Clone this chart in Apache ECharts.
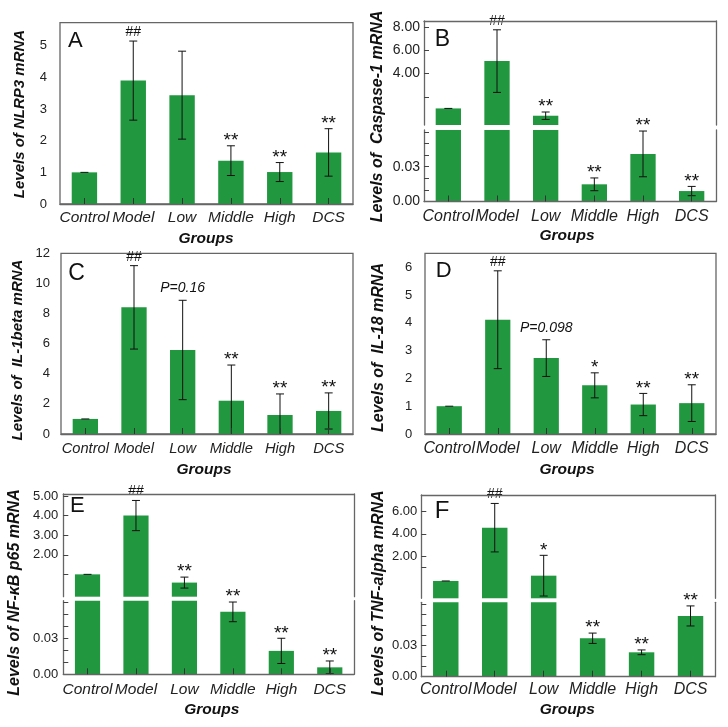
<!DOCTYPE html>
<html><head><meta charset="utf-8">
<script src="https://cdn.jsdelivr.net/npm/echarts@6/dist/echarts.min.js"></script>
<style>html,body{margin:0;padding:0;background:#fff}#c{width:728px;height:727px}</style>
</head><body><div id="c"></div>
<script>
// ---------------- DATA ----------------
const categories = ['Control', 'Model', 'Low', 'Middle', 'High', 'DCS'];

// A: NLRP3
const aMean = [1.0, 3.9, 3.44, 1.37, 1.01, 1.63];
const aSd   = [0, 1.25, 1.39, 0.47, 0.3, 0.75];
const aMark = ['', '##', '', '**', '**', '**'];
const aTicks = [0, 1, 2, 3, 4, 5];

// B: Caspase-1 (broken axis)
const bUpperMean = [1.0, 5.08, 0.37, null, null, null];
const bUpperSd   = [0, 2.7, 0.32, null, null, null];
const bLowerMean = [null, null, null, 0.0148, 0.041, 0.009];
const bLowerSd   = [null, null, null, 0.0055, 0.0197, 0.004];
const bMark = ['', '##', '**', '**', '**', '**'];
const bUpperTicks = [2, 4, 6, 8];
const bUpperLabels = [4, 6, 8];
const bLowerTicks = [0, 0.01, 0.02, 0.03, 0.04, 0.05, 0.06];
const bLowerLabels = [0, 0.03];

// C: IL-1beta
const cMean = [1.0, 8.41, 5.58, 2.21, 1.26, 1.53];
const cSd   = [0, 2.77, 3.3, 2.37, 1.4, 1.2];
const cMark = ['', '##', 'P=0.16', '**', '**', '**'];
const cTicks = [0, 2, 4, 6, 8, 10, 12];

// D: IL-18
const dMean = [1.0, 4.11, 2.73, 1.75, 1.06, 1.11];
const dSd   = [0, 1.76, 0.66, 0.45, 0.4, 0.66];
const dMark = ['', '##', 'P=0.098', '*', '**', '**'];
const dTicks = [0, 1, 2, 3, 4, 5, 6];

// E: NF-kB p65 (broken axis)
const eUpperMean = [1.0, 4.0, 0.58, null, null, null];
const eUpperSd   = [0, 0.77, 0.28, null, null, null];
const eLowerMean = [null, null, null, 0.052, 0.0195, 0.0058];
const eLowerSd   = [null, null, null, 0.0082, 0.0105, 0.0053];
const eMark = ['', '##', '**', '**', '**', '**'];
const eUpperTicks = [1, 2, 3, 4, 5];
const eUpperLabels = [2, 3, 4, 5];
const eLowerTicks = [0, 0.01, 0.02, 0.03, 0.04, 0.05, 0.06];
const eLowerLabels = [0, 0.03];

// F: TNF-alpha (broken axis)
const fUpperMean = [-0.23, 4.56, 0.245, null, null, null];
const fUpperSd   = [0, 2.18, 1.83, null, null, null];
const fLowerMean = [null, null, null, 0.0372, 0.0236, 0.0588];
const fLowerSd   = [null, null, null, 0.005, 0.0023, 0.0097];
const fMark = ['', '##', '*', '**', '**', '**'];
const fUpperTicks = [1, 2, 4, 6];
const fUpperLabels = [2, 4, 6];
const fLowerTicks = [0, 0.01, 0.02, 0.03, 0.04, 0.05, 0.06, 0.07];
const fLowerLabels = [0, 0.03];

// ---------------- STYLE / LAYOUT ----------------
const GREEN = '#21973f';
const FRAME = '#666';
const FONT = '"Liberation Sans", Arial, sans-serif';
const BAR_FRAC = 0.52;

const option = { animation: false, grid: [], xAxis: [], yAxis: [], series: [], graphic: [] };

function barRenderer(vals, base) {
  return function (params, api) {
    const i = params.dataIndex; const v = vals[i];
    if (v == null) return null;
    const p1 = api.coord([i, v]); const p0 = api.coord([i, base]);
    const w = api.size([1, 0])[0] * BAR_FRAC;
    const shape = echarts.graphic.clipRectByRect(
      { x: p1[0] - w / 2, y: Math.min(p0[1], p1[1]), width: w, height: Math.abs(p0[1] - p1[1]) },
      params.coordSys);
    return shape ? { type: 'rect', shape: shape, style: { fill: GREEN } } : null;
  };
}

function markStyle(mk) {
  if (mk.indexOf('P=') === 0) return { font: 'italic 14px ' + FONT, off: 12 };
  if (mk.indexOf('#') === 0) return { font: '14px ' + FONT, off: 9 };
  return { font: '19px ' + FONT, off: 5 };
}

function errRenderer(means, sds, marks) {
  return function (params, api) {
    const i = params.dataIndex; const m = means[i];
    if (m == null) return null;
    const s = sds[i];
    const cs = params.coordSys; const top = cs.y, bot = cs.y + cs.height;
    const x = api.coord([i, m])[0];
    const yt = api.coord([i, m + s])[1]; const yb = api.coord([i, m - s])[1];
    const children = [];
    const y1 = Math.max(yt, top), y2 = Math.min(yb, bot);
    const ls = { stroke: '#111', lineWidth: 1 };
    if (y2 > y1) children.push({ type: 'line', shape: { x1: x, y1: y1, x2: x, y2: y2 }, style: ls });
    const cw = 4;
    if (yt >= top - 0.5 && yt <= bot) children.push({ type: 'line', shape: { x1: x - cw, y1: yt, x2: x + cw, y2: yt }, style: ls });
    if (s > 0 && yb <= bot && yb >= top) children.push({ type: 'line', shape: { x1: x - cw, y1: yb, x2: x + cw, y2: yb }, style: ls });
    const mk = marks[i];
    if (mk) {
      const st = markStyle(mk);
      children.push({ type: 'text', x: x, y: yt - st.off,
        style: { text: mk, font: st.font, fill: '#111', align: 'center', verticalAlign: 'middle', textAlign: 'center', textVerticalAlign: 'middle' } });
    }
    return { type: 'group', children: children };
  };
}

function xAxisBottom(gi, fs, margin) {
  return {
    gridIndex: gi, type: 'category', data: categories, boundaryGap: true, z: 5,
    axisLine: { show: true, onZero: false, lineStyle: { color: FRAME, width: 1.3 } },
    axisTick: { show: true, inside: true, alignWithLabel: true, length: 6, lineStyle: { color: '#333' } },
    axisLabel: { interval: 0, margin: margin, fontSize: fs, fontStyle: 'italic', color: '#222', fontFamily: FONT },
    splitLine: { show: false }
  };
}

function addSeries(xi, yi, render, z) {
  option.series.push({
    type: 'custom', xAxisIndex: xi, yAxisIndex: yi, z: z,
    renderItem: render,
    data: categories.map((c, i) => [i, 0])
  });
}

function simplePanel(L) {
  const gi = option.grid.length;
  option.grid.push({ left: L.l, top: L.t, width: L.r - L.l, height: L.b - L.t, show: true,
    borderColor: FRAME, borderWidth: 1.3, backgroundColor: 'transparent' });
  const xi = option.xAxis.length;
  option.xAxis.push(xAxisBottom(gi, L.xfs, L.xm));
  const yi = option.yAxis.length;
  option.yAxis.push({
    gridIndex: gi, type: 'value', min: 0, max: L.ymax,
    axisLine: { show: false }, splitLine: { show: false }, axisTick: { show: false },
    axisLabel: { customValues: L.ticks, margin: L.ym, fontSize: L.yfs, color: '#222', fontFamily: FONT,
      formatter: v => String(Math.round(v)) }
  });
  addSeries(xi, yi, barRenderer(L.mean, 0), 2);
  addSeries(xi, yi, errRenderer(L.mean, L.sd, L.mark), 4);
}

function brokenPanel(L) {
  const fmt = v => v.toFixed(2);
  const line = { show: true, onZero: false, lineStyle: { color: FRAME, width: 1.3 } };
  // upper grid
  const gU = option.grid.length;
  option.grid.push({ left: L.l, top: L.tU, width: L.r - L.l, height: L.bU - L.tU });
  const xU = option.xAxis.length;
  option.xAxis.push({ gridIndex: gU, type: 'category', data: categories, position: 'top', z: 5,
    axisLine: line, axisTick: { show: false }, axisLabel: { show: false }, splitLine: { show: false } });
  const yU = option.yAxis.length;
  option.yAxis.push({ gridIndex: gU, type: 'value', min: L.uMin, max: L.uMax, position: 'left',
    axisLine: line, splitLine: { show: false },
    axisTick: { show: true, inside: true, length: 5, customValues: L.uTicks, lineStyle: { color: '#444' } },
    axisLabel: { customValues: L.uLabels, formatter: fmt, margin: L.ym, fontSize: L.yfs, color: '#222', fontFamily: FONT } });
  option.yAxis.push({ gridIndex: gU, type: 'value', min: L.uMin, max: L.uMax, position: 'right',
    axisLine: line, splitLine: { show: false }, axisTick: { show: false }, axisLabel: { show: false } });
  // lower grid
  const gL = option.grid.length;
  option.grid.push({ left: L.l, top: L.tL, width: L.r - L.l, height: L.bL - L.tL });
  const xL = option.xAxis.length;
  option.xAxis.push(xAxisBottom(gL, L.xfs, L.xm));
  const yL = option.yAxis.length;
  option.yAxis.push({ gridIndex: gL, type: 'value', min: 0, max: L.lMax, position: 'left',
    axisLine: line, splitLine: { show: false },
    axisTick: { show: true, inside: true, length: 5, customValues: L.lTicks, lineStyle: { color: '#444' } },
    axisLabel: { customValues: L.lLabels, formatter: fmt, margin: L.ym, fontSize: L.yfs, color: '#222', fontFamily: FONT } });
  option.yAxis.push({ gridIndex: gL, type: 'value', min: 0, max: L.lMax, position: 'right',
    axisLine: line, splitLine: { show: false }, axisTick: { show: false }, axisLabel: { show: false } });
  // bars: upper part, and lower part (bars of the upper segment run through the whole lower segment)
  const lowerBars = L.lMean.map((v, i) => (L.uMean[i] != null ? L.lMax : v));
  addSeries(xU, yU, barRenderer(L.uMean, L.uMin), 2);
  addSeries(xL, yL, barRenderer(lowerBars, 0), 2);
  addSeries(xU, yU, errRenderer(L.uMean, L.uSd, L.mark), 4);
  addSeries(xL, yL, errRenderer(L.lMean, L.lSd, L.mark), 4);
}

simplePanel({ l: 60, r: 353, t: 22.7, b: 204, ymax: 5.73, ticks: aTicks, mean: aMean, sd: aSd, mark: aMark,
  xfs: 15.5, xm: 6, yfs: 13, ym: 13 });
brokenPanel({ l: 424, r: 716, tU: 21, bU: 125, tL: 130, bL: 201.5,
  uMin: -0.43, uMax: 8.54, lMax: 0.0616,
  uTicks: bUpperTicks, uLabels: bUpperLabels, lTicks: bLowerTicks, lLabels: bLowerLabels,
  uMean: bUpperMean, uSd: bUpperSd, lMean: bLowerMean, lSd: bLowerSd, mark: bMark,
  xfs: 16, xm: 7, yfs: 14, ym: 4 });
simplePanel({ l: 61, r: 353, t: 253.3, b: 434, ymax: 12, ticks: cTicks, mean: cMean, sd: cSd, mark: cMark,
  xfs: 14.7, xm: 7.5, yfs: 13, ym: 11 });
simplePanel({ l: 425, r: 716, t: 253.3, b: 434, ymax: 6.5, ticks: dTicks, mean: dMean, sd: dSd, mark: dMark,
  xfs: 16, xm: 6.3, yfs: 13, ym: 12.7 });
brokenPanel({ l: 63.3, r: 354, tU: 494, bU: 596.7, tL: 600.7, bL: 674.3,
  uMin: -0.14, uMax: 5.1, lMax: 0.0613,
  uTicks: eUpperTicks, uLabels: eUpperLabels, lTicks: eLowerTicks, lLabels: eLowerLabels,
  uMean: eUpperMean, uSd: eUpperSd, lMean: eLowerMean, lSd: eLowerSd, mark: eMark,
  xfs: 15.5, xm: 7, yfs: 13, ym: 5 });
brokenPanel({ l: 421.3, r: 715, tU: 495, bU: 598.3, tL: 602.3, bL: 676.7,
  uMin: -1.79, uMax: 7.5, lMax: 0.072,
  uTicks: fUpperTicks, uLabels: fUpperLabels, lTicks: fLowerTicks, lLabels: fLowerLabels,
  uMean: fUpperMean, uSd: fUpperSd, lMean: fLowerMean, lSd: fLowerSd, mark: fMark,
  xfs: 16, xm: 4.6, yfs: 13, ym: 4 });

// texts: panel letters, y-axis titles, x-axis titles
const letters = [['A', 68, 41, 22], ['B', 434.7, 40, 23], ['C', 68.3, 273.3, 23],
                 ['D', 435.7, 271.3, 22], ['E', 70, 506, 22], ['F', 434.7, 511.3, 24]];
letters.forEach(([t, x, y, s]) => option.graphic.push({ type: 'text', x: x, y: y, z: 10,
  style: { text: t, font: s + 'px ' + FONT, fill: '#111', align: 'left', verticalAlign: 'middle', textAlign: 'left', textVerticalAlign: 'middle' } }));

const yNames = [['Levels of NLRP3 mRNA', 20, 114, 15], ['Levels of  Caspase-1 mRNA', 378, 116.5, 16],
  ['Levels of  IL-1beta mRNA', 18, 350, 15], ['Levels of  IL-18 mRNA', 379, 347.5, 16],
  ['Levels of NF-\u03baB p65 mRNA', 15, 592.5, 16], ['Levels of TNF-alpha mRNA', 379, 593, 16]];
yNames.forEach(([t, x, y, s]) => option.graphic.push({ type: 'text', x: x, y: y, rotation: Math.PI / 2, z: 10,
  style: { text: t, font: 'italic bold ' + s + 'px ' + FONT, fill: '#111', align: 'center', verticalAlign: 'middle', textAlign: 'center', textVerticalAlign: 'middle' } }));

const xNames = [[206, 238.3], [567, 236], [204, 470], [567, 469.3], [211.7, 710], [567.3, 710]];
xNames.forEach(([x, y]) => option.graphic.push({ type: 'text', x: x, y: y, z: 10,
  style: { text: 'Groups', font: 'italic bold 15.5px ' + FONT, fill: '#111', align: 'center', verticalAlign: 'middle', textAlign: 'center', textVerticalAlign: 'middle' } }));

const chart = echarts.init(document.getElementById('c'), null, { renderer: 'canvas' });
chart.setOption(option);
</script>
</body></html>
